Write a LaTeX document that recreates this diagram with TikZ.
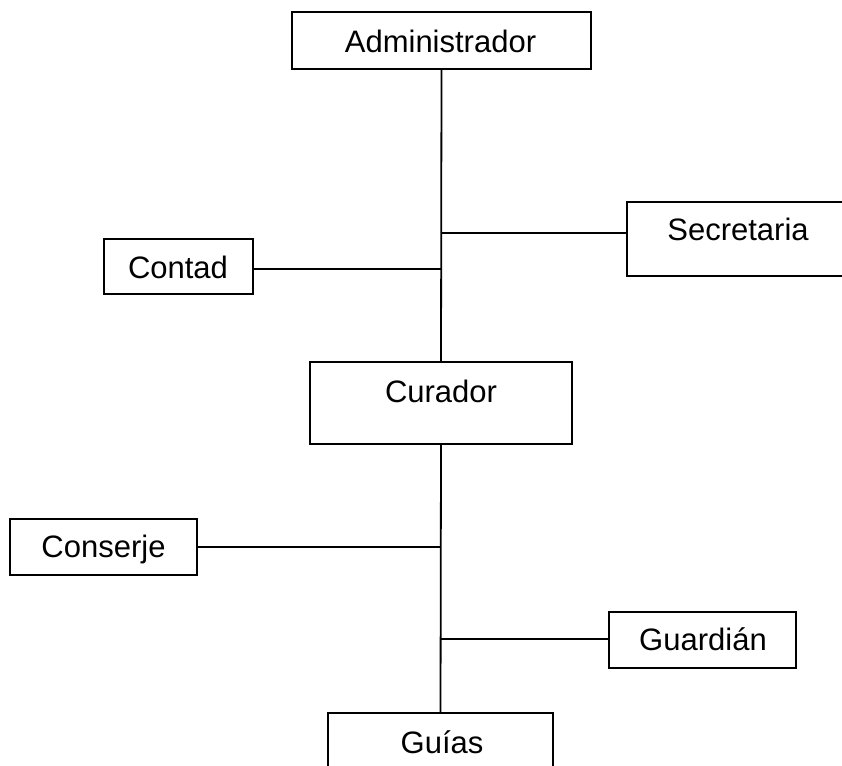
\documentclass[tikz,border=0pt]{standalone}
\usepackage{fontspec}
\setmainfont{Liberation Sans}
\begin{document}
\begin{tikzpicture}[x=1pt,y=-1pt,
  rolebox/.style={draw=black,line width=1.8pt,fill=white,inner sep=0pt,outer sep=0pt,rectangle},
  rolename/.style={anchor=base,inner sep=0pt,font=\fontsize{31}{37}\selectfont},
  link/.style={draw=black,line width=1.8pt}]
\path[use as bounding box] (0,0) rectangle (842,765);
\clip (0,0) rectangle (842,765);

% trunk junctions
\coordinate (jsec) at (441,233);
\coordinate (jcon) at (441,269);
\coordinate (jcons) at (441,547);
\coordinate (jguar) at (441,639);

% boxes
\node[rolebox,minimum width=299,minimum height=57] (admin) at (441.5,40.5) {};
\node[rolebox,minimum width=149,minimum height=55] (contad) at (178.5,266.5) {};
\node[rolebox,minimum width=222,minimum height=74] (secre) at (738,239) {};
\node[rolebox,minimum width=262,minimum height=82] (cur) at (441,403) {};
\node[rolebox,minimum width=187,minimum height=56] (cons) at (103.5,547) {};
\node[rolebox,minimum width=187,minimum height=56] (guar) at (702.5,640) {};
\node[rolebox,minimum width=225,minimum height=82] (guias) at (440.5,754) {};

% connectors
\draw[link] (admin.south) -- (cur.north);
\draw[link] (cur.south) -- (guias.north);
\draw[link] (jsec) -- (jsec -| secre.west);
\draw[link] (jcon -| contad.east) -- (jcon);
\draw[link] (jcons -| cons.east) -- (jcons);
\draw[link] (jguar) -- (jguar -| guar.west);

% role names
\node[rolename] (adminT) at (440.5,53) {Administrador};
\node[rolename] (secreT) at (738,240) {Secretaria};
\node[rolename] (contadT) at (178,278) {Contad};
\node[rolename] (curT) at (441,402) {Curador};
\node[rolename] (consT) at (103.5,557) {Conserje};
\node[rolename] (guarT) at (703,650) {Guardián};
\node[rolename] (guiasT) at (442,753) {Guías};
\end{tikzpicture}
\end{document}
